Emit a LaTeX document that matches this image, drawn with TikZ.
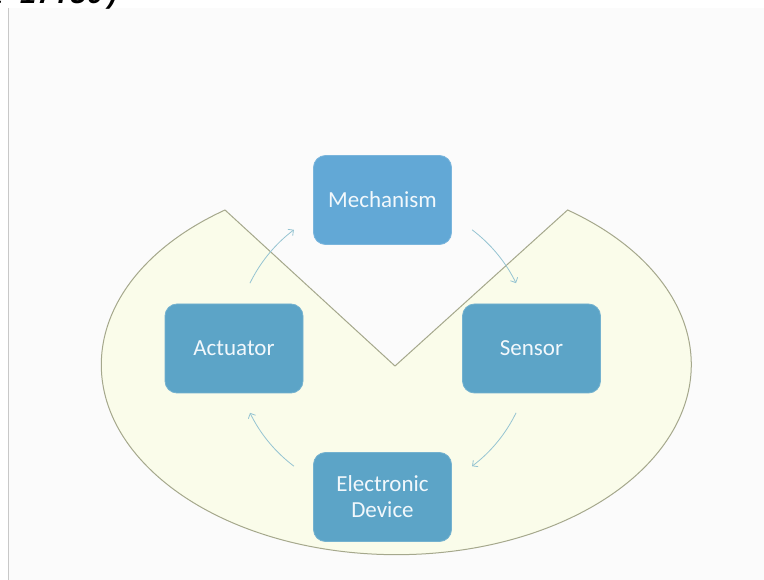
\documentclass[tikz,border=0pt]{standalone}
\usepackage{fontspec}
\setmainfont{Carlito}
\newfontfamily\clockfont{Liberation Mono}
\usetikzlibrary{arrows.meta}

\definecolor{pagebg}{RGB}{251,251,251}
\definecolor{rulegray}{RGB}{200,200,200}
\definecolor{piefill}{RGB}{250,252,234}
\definecolor{piedraw}{RGB}{165,168,140}
\definecolor{boxblue}{RGB}{92,164,199}
\definecolor{boxbright}{RGB}{98,168,214}
\definecolor{flowcol}{RGB}{150,196,210}
\definecolor{boxtext}{RGB}{242,248,252}

\tikzset{
  stagebox/.style={rounded corners=12pt, fill=boxblue, draw=boxblue!85!white,
    line width=0.8pt, minimum width=138pt, minimum height=89pt,
    text=boxtext, font=\fontsize{23}{26}\selectfont, align=center, inner sep=2pt},
  flow/.style={draw=flowcol, line width=0.8pt,
    -{Straight Barb[length=4pt,width=8pt]}},
  piepart/.style={fill=piefill, draw=piedraw, line width=1pt}
}

\begin{document}
\begin{tikzpicture}[x=1pt,y=-1pt]
  \useasboundingbox (0,0) rectangle (764,580);
  \begin{scope}
    \clip (0,0) rectangle (764,580);
    % page and left rule
    \fill[white] (0,0) rectangle (764,580);
    \fill[pagebg] (9,8) rectangle (764,580);
    \draw[rulegray, line width=1.2pt] (8.5,8) -- (8.5,580);
    % caption running off the top edge
    \node[anchor=base west, inner sep=0pt, font=\clockfont\bfseries\itshape\fontsize{28}{30}\selectfont]
      (clock) at (-14,4) {a 17:30)};

    % pie with a wedge removed
    \draw[piepart] (395,366) -- (225,210)
      arc[start angle=234.5, end angle=-54.5, x radius=295, y radius=190] -- cycle;

    % cycle stages
    \node[stagebox, fill=boxbright, draw=boxbright!85!white] (mech) at (382.5,200) {Mechanism};
    \node[stagebox] (sens) at (531.5,348.5) {Sensor};
    \node[stagebox] (elec) at (382.5,497) {Electronic\\Device};
    \node[stagebox] (act) at (234,348.5) {Actuator};

    % circular flow between the stages
    \coordinate (cyc) at (383,348);
    \draw[flow] (cyc) ++(206:148) arc[start angle=206, end angle=233, radius=148];
    \draw[flow] (cyc) ++(307:148) arc[start angle=307, end angle=334, radius=148];
    \draw[flow] (cyc) ++(26:148) arc[start angle=26, end angle=53, radius=148];
    \draw[flow] (cyc) ++(127:148) arc[start angle=127, end angle=154, radius=148];
  \end{scope}
\end{tikzpicture}
\end{document}
